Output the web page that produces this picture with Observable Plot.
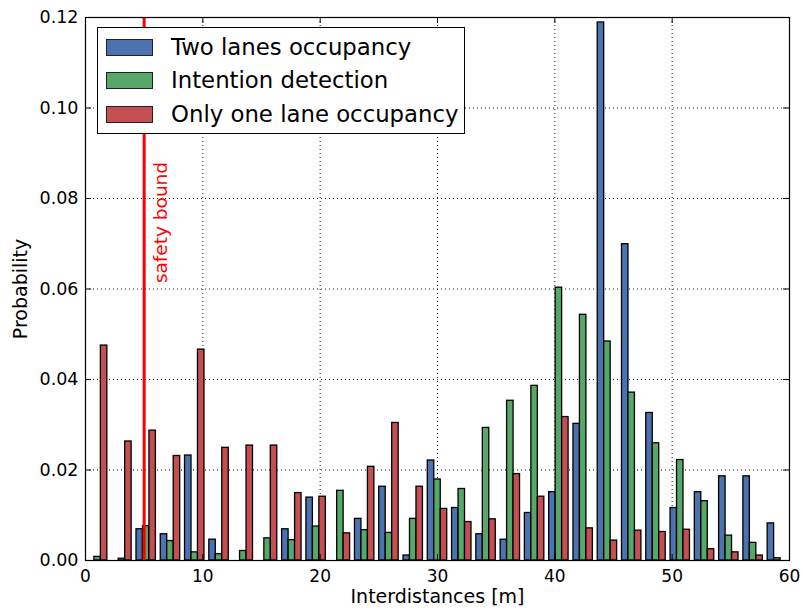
<!DOCTYPE html>
<html>
<head>
<meta charset="utf-8">
<script src="https://cdn.jsdelivr.net/npm/d3@7"></script>
<script src="https://cdn.jsdelivr.net/npm/@observablehq/plot@0.6"></script>
<style>
  html, body { margin: 0; padding: 0; background: #fff; }
  #wrap { position: relative; width: 803px; height: 614px; font-family: "DejaVu Sans", sans-serif; }
  #legend { position: absolute; left: 97px; top: 27px; width: 366px; height: 105px; border: 1.2px solid #000; background: #fff; }
  .row { position: absolute; left: 0; height: 33px; width: 100%; }
  .patch { position: absolute; left: 8px; top: 8px; width: 45px; height: 15px; border: 1.2px solid #222; }
  .lab { position: absolute; left: 73px; top: 0; line-height: 33px; font-size: 22.8px; color: #000; white-space: nowrap; }
</style>
</head>
<body>
<div id="wrap"></div>
<script>
// ---- data ----
const seriesNames = ["Two lanes occupancy", "Intention detection", "Only one lane occupancy"];
const seriesColors = ["#4C72B0", "#55A868", "#C44E52"];
const binRange = [0, 60];
const binCount = 29;
const twoLanes = [0, 0, 0.0069, 0.0058, 0.0232, 0.0046, 0, 0, 0.0069, 0.0139,
  0, 0.0092, 0.0163, 0.0011, 0.0221, 0.0116, 0.0058, 0.0046, 0.0105, 0.0151,
  0.0302, 0.1189, 0.0699, 0.0326, 0.0116, 0.0151, 0.0186, 0.0186, 0.0082];
const intention = [0.0008, 0.0004, 0.0076, 0.0043, 0.0018, 0.0014, 0.0021, 0.0049, 0.0045, 0.0075,
  0.0154, 0.0067, 0.0061, 0.0092, 0.0179, 0.0158, 0.0293, 0.0353, 0.0386, 0.0603,
  0.0543, 0.0484, 0.0371, 0.0259, 0.0222, 0.0131, 0.0055, 0.0039, 0.0005];
const oneLane = [0.0475, 0.0263, 0.0287, 0.0231, 0.0466, 0.0249, 0.0254, 0.0254, 0.0149, 0.0141,
  0.0060, 0.0207, 0.0304, 0.0163, 0.0114, 0.0085, 0.0091, 0.0191, 0.0141, 0.0317,
  0.0071, 0.0044, 0.0066, 0.0063, 0.0068, 0.0025, 0.0018, 0.0011, 0];
const safetyBound = 5;
const safetyLabel = "safety bound";
const safetyLabelY = 0.0613;
const xTicks = [0, 10, 20, 30, 40, 50, 60];
const yTicks = [0, 0.02, 0.04, 0.06, 0.08, 0.10, 0.12];
const xLabel = "Interdistances [m]";
const yLabel = "Probability";

// ---- table (matplotlib-style grouped histogram: 80% of bin, split in 3) ----
const allSeries = [twoLanes, intention, oneLane];
const binW = (binRange[1] - binRange[0]) / binCount;
const barW = binW * 0.8 / 3;
const table = [];
allSeries.forEach((vals, s) => {
  vals.forEach((v, i) => {
    const x1 = binRange[0] + i * binW + binW * 0.1 + s * barW;
    table.push({series: seriesNames[s], x1, x2: x1 + barW, value: v});
  });
});

const W = 803, H = 614, mL = 85, mR = 14, mT = 17, mB = 54;
const innerH = H - mT - mB, innerW = W - mL - mR;
const tickLen = 6;
const gridX = xTicks.slice(1, -1), gridY = yTicks.slice(1, -1);

const chart = Plot.plot({
  width: W, height: H,
  marginLeft: mL, marginRight: mR, marginTop: mT, marginBottom: mB,
  style: {fontFamily: "DejaVu Sans, sans-serif", background: "#fff", color: "#000"},
  x: {domain: [0, 60]},
  y: {domain: [0, 0.12]},
  color: {domain: seriesNames, range: seriesColors},
  marks: [
    Plot.ruleX(gridX, {stroke: "#000", strokeWidth: 1, strokeDasharray: "1,3", strokeOpacity: 0.9}),
    Plot.ruleY(gridY, {stroke: "#000", strokeWidth: 1, strokeDasharray: "1,3", strokeOpacity: 0.9}),
    Plot.rectY(table, {x1: "x1", x2: "x2", y1: 0, y2: "value", fill: "series", stroke: "#000", strokeWidth: 1.3, inset: 0}),
    Plot.ruleX([safetyBound], {stroke: "#ff0000", strokeWidth: 3}),
    Plot.text([safetyLabel], {x: safetyBound, y: safetyLabelY, text: d => d, rotate: -90, textAnchor: "start", dx: 16.5, fill: "#ff0000", fontSize: 18.5}),
    Plot.axisX(xTicks, {tickSize: 0, tickPadding: 9.5, fontSize: 17, tickFormat: d => String(d), label: null}),
    Plot.axisY(yTicks, {tickSize: 0, tickPadding: 7, fontSize: 17.5, tickFormat: d3.format(".2f"), label: null}),
    // inward ticks on all four sides
    Plot.ruleX(xTicks, {stroke: "#000", strokeWidth: 1, insetTop: innerH - tickLen}),
    Plot.ruleX(xTicks, {stroke: "#000", strokeWidth: 1, insetBottom: innerH - tickLen}),
    Plot.ruleY(yTicks, {stroke: "#000", strokeWidth: 1, insetRight: innerW - tickLen}),
    Plot.ruleY(yTicks, {stroke: "#000", strokeWidth: 1, insetLeft: innerW - tickLen}),
    Plot.frame({stroke: "#000", strokeWidth: 1.2}),
    Plot.text([xLabel], {frameAnchor: "bottom", text: d => d, dy: 42, fontSize: 19, textAnchor: "middle"}),
    Plot.text([yLabel], {frameAnchor: "left", text: d => d, dx: -64.6, rotate: -90, fontSize: 19, textAnchor: "middle"})
  ]
});

const wrap = document.getElementById("wrap");
wrap.appendChild(chart);

// legend (inside plot area, upper left)
const legend = document.createElement("div");
legend.id = "legend";
seriesNames.forEach((name, i) => {
  const row = document.createElement("div");
  row.className = "row";
  row.style.top = (3 + i * 33.3) + "px";
  const patch = document.createElement("div");
  patch.className = "patch";
  patch.style.background = seriesColors[i];
  const lab = document.createElement("div");
  lab.className = "lab";
  lab.textContent = name;
  row.appendChild(patch);
  row.appendChild(lab);
  legend.appendChild(row);
});
wrap.appendChild(legend);
</script>
</body>
</html>
